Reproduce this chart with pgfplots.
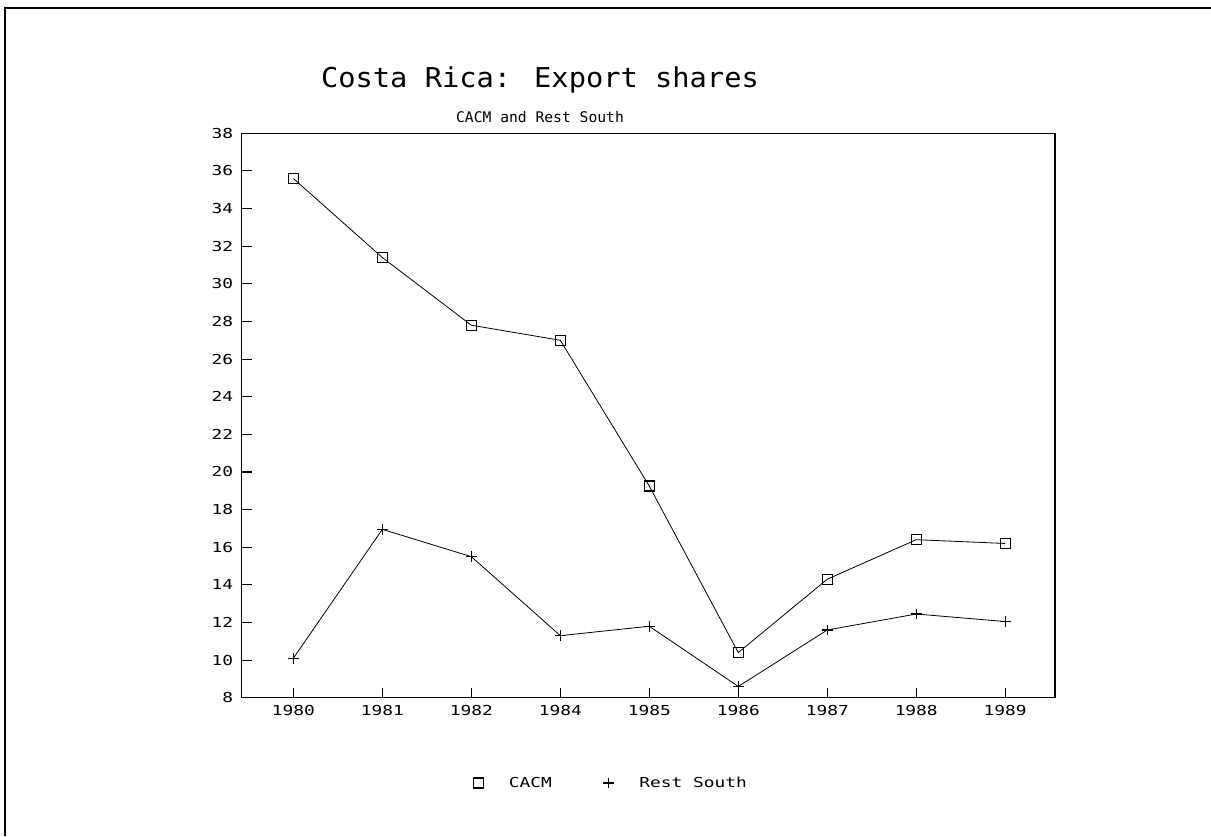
\documentclass[border=0pt]{standalone}
\usepackage{fontspec}
\usepackage{pgfplots}
\pgfplotsset{compat=1.18}
\setmainfont{DejaVu Sans Mono}
\newfontfamily\titlefont[FakeStretch=1.05]{DejaVu Sans Mono}
\newfontfamily\tickfont[FakeStretch=1.3]{DejaVu Sans Mono}

\begin{document}
\begin{tikzpicture}
% page: 908.25pt x 627pt
\path[use as bounding box] (0,0) rectangle (908.25pt,627pt);
% outer frame (top and left edges)
\draw[line width=1.5pt] (3.75pt,0pt) -- (3.75pt,620.8pt) -- (908.25pt,620.8pt);

\node[font=\titlefont\fontsize{20.5}{24}\selectfont, anchor=base] at (405pt,561pt) {Costa Rica: Export shares};
\node[font=\fontsize{11}{13}\selectfont, anchor=center] at (405pt,539.3pt) {CACM and Rest South};

\begin{axis}[
  at={(181.3pt,103.7pt)}, anchor=south west,
  scale only axis,
  width=610pt, height=423.3pt,
  xmin=-0.58, xmax=8.56,
  ymin=8, ymax=38,
  ytick={8,10,...,38},
  xtick={0,...,8},
  xticklabels={1980,1981,1982,1984,1985,1986,1987,1988,1989},
  tick align=inside,
  xtick pos=bottom, ytick pos=left,
  major tick length=7.5pt,
  axis line style={line width=1pt},
  tick style={line width=0.8pt, black},
  /pgf/number format/assume math mode=true,
  tick label style={font=\tickfont\fontsize{10.3}{12}\selectfont},
  yticklabel style={xshift=-3pt},
  xticklabel style={yshift=-2pt},
  legend columns=2,
  legend style={at={(0.4545,-0.151)}, anchor=center, draw=none,
    font=\tickfont\fontsize{10.3}{12}\selectfont,
    /tikz/every even column/.append style={column sep=36.5pt}},
  legend image code/.code={\draw[#1, only marks] plot coordinates {(0pt,0pt)}; \path[draw=none] (0pt,0pt) -- (21pt,0pt);},
]
\addplot[black, line width=0.6pt, mark=square, mark size=3.75pt, mark options={solid, line width=0.9pt}]
  coordinates {(0,35.6) (1,31.4) (2,27.8) (3,27.0) (4,19.25) (5,10.4) (6,14.3) (7,16.4) (8,16.2)};
\addlegendentry{CACM}
\addplot[black, line width=0.6pt, mark=+, mark size=4pt, mark options={solid, line width=0.9pt}]
  coordinates {(0,10.1) (1,16.95) (2,15.5) (3,11.3) (4,11.8) (5,8.6) (6,11.6) (7,12.45) (8,12.05)};
\addlegendentry{Rest South}
\end{axis}
\end{tikzpicture}
\end{document}
